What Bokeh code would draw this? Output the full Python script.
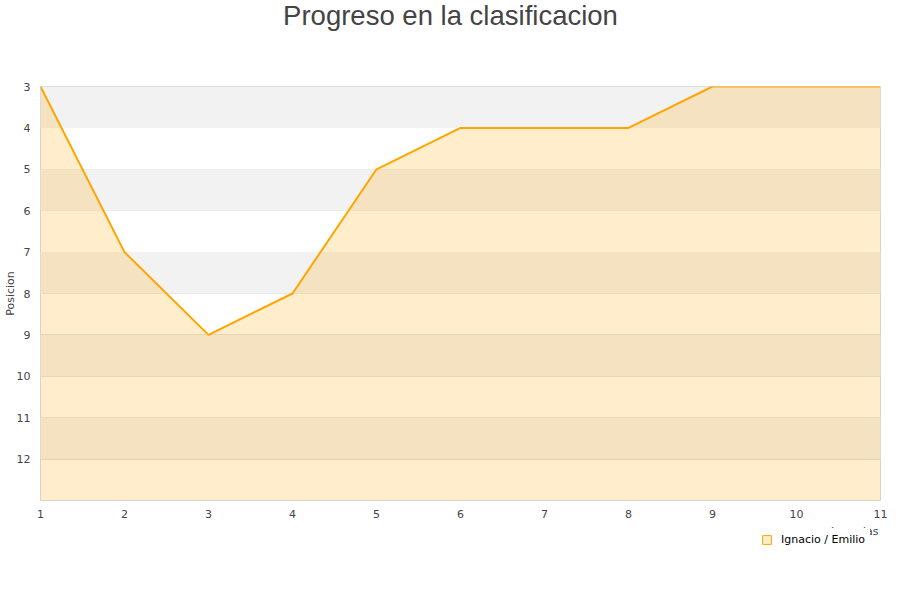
from bokeh.plotting import figure
from bokeh.layouts import column
from bokeh.models import (Range1d, FixedTicker, BoxAnnotation, Legend, LegendItem,
                          ColumnDataSource, Label)
from bokeh.embed import file_html
from bokeh.resources import INLINE

jornadas = [1, 2, 3, 4, 5, 6, 7, 8, 9, 10, 11]
posicion = [3, 7, 9, 8, 5, 4, 4, 4, 3, 3, 3]
y_ticks = [3, 4, 5, 6, 7, 8, 9, 10, 11, 12]
serie = "Ignacio / Emilio"
titulo = "Progreso en la clasificacion"
x_titulo = "Jornadas"

FONT = "DejaVu Sans"
TFONT = "Liberation Sans"
W = 900


def strip(h, top_px):
    s = figure(width=W, height=h, output_backend="svg", toolbar_location=None,
               x_range=Range1d(40, 880), y_range=Range1d(top_px + h, top_px),
               x_axis_location=None, y_axis_location=None,
               min_border_left=40, min_border_right=20, min_border_top=0,
               min_border_bottom=0, title=None)
    s.outline_line_color = None
    s.background_fill_color = "white"
    s.border_fill_color = "white"
    s.grid.visible = False
    return s


# ---- title strip
t = strip(78, 0)
t.add_layout(Label(x=450, y=15, text=titulo, text_font=TFONT, text_font_size="27.5px",
                   text_color="#444444", text_align="center", text_baseline="middle"))

# ---- main chart
p = figure(width=W, height=442, output_backend="svg", toolbar_location=None,
           x_range=Range1d(1, 11), y_range=Range1d(13, 3),
           min_border_left=40, min_border_right=20, min_border_top=8,
           min_border_bottom=20, title=None)
p.background_fill_color = "white"
p.border_fill_color = "white"
p.outline_line_color = "#d6d6d6"
p.outline_line_width = 1

for k in range(3, 13, 2):
    p.add_layout(BoxAnnotation(bottom=k, top=k + 1, fill_color="#f2f2f2",
                               fill_alpha=1, line_alpha=0, level="underlay"))

src = ColumnDataSource(dict(x=jornadas, y=posicion, base=[13] * len(jornadas)))
p.varea(x="x", y1="y", y2="base", source=src, fill_color="#ffa500", fill_alpha=0.2)
p.line(x="x", y="y", source=src, line_color="#ffa500", line_width=2)

p.xgrid.visible = False
p.ygrid.ticker = FixedTicker(ticks=y_ticks + [13])
p.ygrid.grid_line_color = "#e0e0e0"
p.ygrid.level = "underlay"

p.xaxis.ticker = FixedTicker(ticks=jornadas)
p.yaxis.ticker = FixedTicker(ticks=y_ticks)
for ax in (p.xaxis, p.yaxis):
    ax.axis_line_color = None
    ax.major_tick_line_color = None
    ax.minor_tick_line_color = None
    ax.major_label_text_font = FONT
    ax.major_label_text_font_size = "11px"
    ax.major_label_text_color = "#444444"
p.xaxis.major_label_standoff = 3
p.yaxis.major_label_standoff = 4
p.yaxis.axis_label = "Posicion"
p.yaxis.axis_label_text_font = FONT
p.yaxis.axis_label_text_font_size = "11px"
p.yaxis.axis_label_text_font_style = "normal"
p.yaxis.axis_label_text_color = "#444444"
p.yaxis.axis_label_standoff = -3

# ---- strip with x-axis title and legend
b = strip(60, 520)
b.add_layout(Label(x=878, y=531, text=x_titulo, text_font=FONT, text_font_size="11px",
                   text_color="#444444", text_align="right", text_baseline="middle"))
b.extra_y_ranges = {"off": Range1d(1000, 2000)}
sw = b.quad(left="x", right="x", bottom="base", top="y", source=src,
            y_range_name="off", fill_color="#ffedcc", line_color="#ffa500",
            line_width=1)
legend = Legend(items=[LegendItem(label=serie, renderers=[sw])],
                location=(716, 29), orientation="horizontal",
                label_text_font=FONT, label_text_font_size="11px",
                label_text_color="#000000", glyph_width=11, glyph_height=11,
                label_standoff=9, border_line_alpha=0,
                background_fill_color="white", background_fill_alpha=1,
                spacing=4, padding=5, margin=0)
b.add_layout(legend)

layout = column(t, p, b, spacing=0)
open("out.html", "w").write(file_html(layout, INLINE))
